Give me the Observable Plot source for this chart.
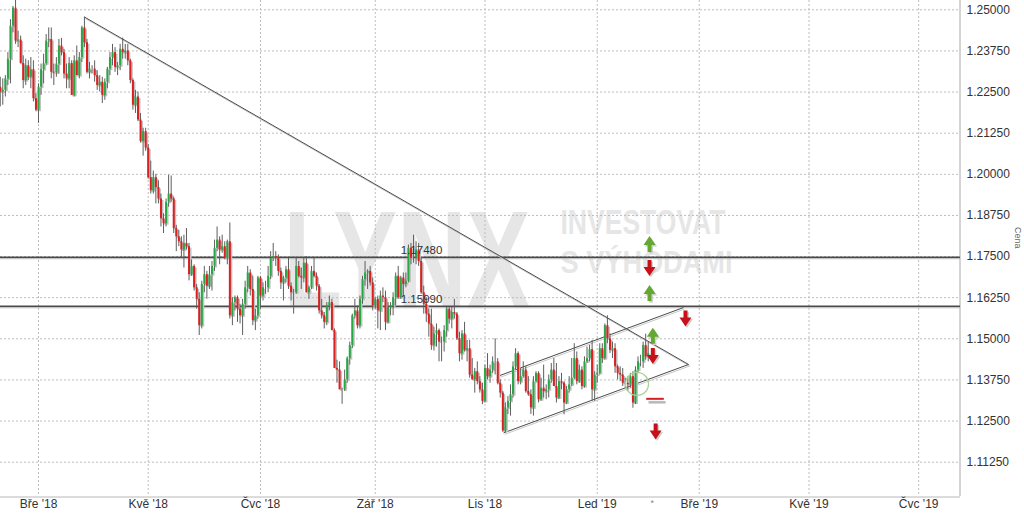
<!DOCTYPE html>
<html>
<head>
<meta charset="utf-8">
<script src="https://cdn.jsdelivr.net/npm/d3@7"></script>
<script src="https://cdn.jsdelivr.net/npm/@observablehq/plot@0.6"></script>
<style>
html,body{margin:0;padding:0;background:#fff;}
#chart{width:1024px;height:517px;overflow:hidden;}
</style>
</head>
<body>
<div id="chart"></div>
<script>
// ---- trading days (EUR/USD daily bars) ----
const dates = [
"2018-02-08","2018-02-09","2018-02-12","2018-02-13","2018-02-14","2018-02-15","2018-02-16","2018-02-19","2018-02-20","2018-02-21","2018-02-22","2018-02-23","2018-02-26","2018-02-27","2018-02-28",
"2018-03-01","2018-03-02","2018-03-05","2018-03-06","2018-03-07","2018-03-08","2018-03-09","2018-03-12","2018-03-13","2018-03-14","2018-03-15","2018-03-16","2018-03-19","2018-03-20","2018-03-21","2018-03-22","2018-03-23","2018-03-26","2018-03-27","2018-03-28","2018-03-29","2018-03-30",
"2018-04-02","2018-04-03","2018-04-04","2018-04-05","2018-04-06","2018-04-09","2018-04-10","2018-04-11","2018-04-12","2018-04-13","2018-04-16","2018-04-17","2018-04-18","2018-04-19","2018-04-20","2018-04-23","2018-04-24","2018-04-25","2018-04-26","2018-04-27","2018-04-30",
"2018-05-01","2018-05-02","2018-05-03","2018-05-04","2018-05-07","2018-05-08","2018-05-09","2018-05-10","2018-05-11","2018-05-14","2018-05-15","2018-05-16","2018-05-17","2018-05-18","2018-05-21","2018-05-22","2018-05-23","2018-05-24","2018-05-25","2018-05-28","2018-05-29","2018-05-30","2018-05-31",
"2018-06-01","2018-06-04","2018-06-05","2018-06-06","2018-06-07","2018-06-08","2018-06-11","2018-06-12","2018-06-13","2018-06-14","2018-06-15","2018-06-18","2018-06-19","2018-06-20","2018-06-21","2018-06-22","2018-06-25","2018-06-26","2018-06-27","2018-06-28","2018-06-29",
"2018-07-02","2018-07-03","2018-07-04","2018-07-05","2018-07-06","2018-07-09","2018-07-10","2018-07-11","2018-07-12","2018-07-13","2018-07-16","2018-07-17","2018-07-18","2018-07-19","2018-07-20","2018-07-23","2018-07-24","2018-07-25","2018-07-26","2018-07-27","2018-07-30","2018-07-31",
"2018-08-01","2018-08-02","2018-08-03","2018-08-06","2018-08-07","2018-08-08","2018-08-09","2018-08-10","2018-08-13","2018-08-14","2018-08-15","2018-08-16","2018-08-17","2018-08-20","2018-08-21","2018-08-22","2018-08-23","2018-08-24","2018-08-27","2018-08-28","2018-08-29","2018-08-30","2018-08-31",
"2018-09-03","2018-09-04","2018-09-05","2018-09-06","2018-09-07","2018-09-10","2018-09-11","2018-09-12","2018-09-13","2018-09-14","2018-09-17","2018-09-18","2018-09-19","2018-09-20","2018-09-21","2018-09-24","2018-09-25","2018-09-26","2018-09-27","2018-09-28",
"2018-10-01","2018-10-02","2018-10-03","2018-10-04","2018-10-05","2018-10-08","2018-10-09","2018-10-10","2018-10-11","2018-10-12","2018-10-15","2018-10-16","2018-10-17","2018-10-18","2018-10-19","2018-10-22","2018-10-23","2018-10-24","2018-10-25","2018-10-26","2018-10-29","2018-10-30","2018-10-31",
"2018-11-01","2018-11-02","2018-11-05","2018-11-06","2018-11-07","2018-11-08","2018-11-09","2018-11-12","2018-11-13","2018-11-14","2018-11-15","2018-11-16","2018-11-19","2018-11-20","2018-11-21","2018-11-22","2018-11-23","2018-11-26","2018-11-27","2018-11-28","2018-11-29","2018-11-30",
"2018-12-03","2018-12-04","2018-12-05","2018-12-06","2018-12-07","2018-12-10","2018-12-11","2018-12-12","2018-12-13","2018-12-14","2018-12-17","2018-12-18","2018-12-19","2018-12-20","2018-12-21","2018-12-24","2018-12-26","2018-12-27","2018-12-28","2018-12-31",
"2019-01-02","2019-01-03","2019-01-04","2019-01-07","2019-01-08","2019-01-09","2019-01-10","2019-01-11","2019-01-14","2019-01-15","2019-01-16","2019-01-17","2019-01-18","2019-01-21","2019-01-22","2019-01-23","2019-01-24","2019-01-25","2019-01-28","2019-01-29","2019-01-30","2019-01-31",
"2019-02-01"];

const open = [
1.2265,1.2250,1.2255,1.2290,1.2350,1.2450,1.2505,1.2405,1.2408,1.2337,1.2285,1.2330,1.2295,1.2318,1.2230,
1.2195,1.2265,1.2318,1.2336,1.2405,1.2410,1.2310,1.2308,1.2335,1.2390,1.2370,1.2305,1.2290,1.2337,1.2240,1.2345,1.2300,1.2355,1.2445,1.2400,1.2310,1.2320,
1.2320,1.2300,1.2270,1.2280,1.2240,1.2280,1.2320,1.2355,1.2370,1.2325,1.2330,1.2380,1.2370,1.2375,1.2345,1.2285,1.2210,1.2235,1.2165,1.2100,1.2130,
1.2080,1.1990,1.1950,1.1990,1.1960,1.1925,1.1865,1.1850,1.1915,1.1940,1.1925,1.1835,1.1810,1.1795,1.1770,1.1790,1.1780,1.1695,1.1720,1.1655,1.1620,1.1540,1.1665,
1.1695,1.1660,1.1695,1.1720,1.1775,1.1800,1.1770,1.1780,1.1745,1.1795,1.1570,1.1610,1.1625,1.1590,1.1570,1.1605,1.1655,1.1700,1.1650,1.1555,1.1570,
1.1685,1.1630,1.1655,1.1655,1.1690,1.1745,1.1750,1.1745,1.1705,1.1670,1.1685,1.1710,1.1660,1.1640,1.1640,1.1720,1.1690,1.1685,1.1730,1.1640,1.1655,1.1705,
1.1690,1.1660,1.1585,1.1570,1.1550,1.1600,1.1610,1.1525,1.1410,1.1405,1.1345,1.1345,1.1375,1.1440,1.1480,1.1570,1.1585,1.1540,1.1620,1.1680,1.1700,1.1705,1.1670,
1.1600,1.1620,1.1585,1.1630,1.1625,1.1550,1.1595,1.1600,1.1625,1.1690,1.1625,1.1685,1.1665,1.1675,1.1775,1.1745,1.1745,1.1770,1.1735,1.1640,
1.1605,1.1575,1.1545,1.1480,1.1515,1.1525,1.1490,1.1490,1.1525,1.1590,1.1560,1.1580,1.1575,1.1500,1.1455,1.1515,1.1465,1.1470,1.1390,1.1375,1.1400,1.1370,1.1345,
1.1310,1.1410,1.1385,1.1405,1.1430,1.1430,1.1365,1.1335,1.1220,1.1290,1.1310,1.1330,1.1415,1.1455,1.1370,1.1385,1.1405,1.1340,1.1330,1.1290,1.1370,1.1395,
1.1315,1.1350,1.1340,1.1345,1.1375,1.1405,1.1355,1.1320,1.1370,1.1365,1.1305,1.1345,1.1360,1.1380,1.1440,1.1370,1.1405,1.1355,1.1430,1.1440,
1.1467,1.1345,1.1390,1.1395,1.1470,1.1440,1.1540,1.1500,1.1465,1.1470,1.1415,1.1395,1.1390,1.1365,1.1365,1.1360,1.1385,1.1305,1.1405,1.1430,1.1430,1.1480,
1.1445];

const high = [
1.2295,1.2290,1.2300,1.2370,1.2470,1.2510,1.2555,1.2435,1.2420,1.2360,1.2350,1.2345,1.2355,1.2345,1.2245,
1.2275,1.2335,1.2365,1.2425,1.2445,1.2445,1.2335,1.2355,1.2410,1.2413,1.2380,1.2335,1.2355,1.2345,1.2360,1.2390,1.2370,1.2450,1.2478,1.2410,1.2340,1.2330,
1.2345,1.2315,1.2300,1.2295,1.2290,1.2325,1.2370,1.2395,1.2385,1.2340,1.2395,1.2414,1.2395,1.2395,1.2350,1.2290,1.2255,1.2250,1.2185,1.2140,1.2140,
1.2090,1.2040,1.2010,1.2000,1.1980,1.1940,1.1880,1.1925,1.1997,1.1995,1.1930,1.1845,1.1830,1.1810,1.1815,1.1835,1.1790,1.1740,1.1725,1.1665,1.1640,1.1675,1.1720,
1.1705,1.1720,1.1735,1.1800,1.1840,1.1810,1.1815,1.1795,1.1800,1.1852,1.1625,1.1630,1.1630,1.1605,1.1620,1.1675,1.1720,1.1710,1.1690,1.1590,1.1690,
1.1690,1.1670,1.1675,1.1720,1.1765,1.1790,1.1765,1.1755,1.1715,1.1690,1.1720,1.1745,1.1670,1.1650,1.1745,1.1735,1.1715,1.1745,1.1750,1.1660,1.1720,1.1745,
1.1700,1.1665,1.1620,1.1580,1.1610,1.1630,1.1620,1.1530,1.1435,1.1430,1.1350,1.1405,1.1445,1.1490,1.1575,1.1620,1.1600,1.1630,1.1690,1.1735,1.1710,1.1720,1.1685,
1.1625,1.1630,1.1645,1.1655,1.1645,1.1610,1.1610,1.1640,1.1700,1.1720,1.1690,1.1700,1.1700,1.1785,1.1790,1.1815,1.1795,1.1790,1.1745,1.1660,
1.1625,1.1590,1.1590,1.1535,1.1545,1.1530,1.1505,1.1540,1.1595,1.1595,1.1595,1.1620,1.1580,1.1520,1.1525,1.1550,1.1495,1.1495,1.1440,1.1410,1.1430,1.1385,1.1365,
1.1420,1.1455,1.1420,1.1445,1.1500,1.1440,1.1375,1.1340,1.1305,1.1325,1.1360,1.1430,1.1470,1.1460,1.1410,1.1430,1.1415,1.1385,1.1345,1.1385,1.1400,1.1400,
1.1380,1.1420,1.1360,1.1390,1.1425,1.1440,1.1425,1.1385,1.1395,1.1370,1.1355,1.1385,1.1440,1.1485,1.1460,1.1420,1.1415,1.1445,1.1475,1.1480,
1.1495,1.1400,1.1420,1.1485,1.1485,1.1545,1.1570,1.1515,1.1490,1.1485,1.1420,1.1415,1.1410,1.1380,1.1385,1.1395,1.1400,1.1415,1.1445,1.1450,1.1490,1.1514,
1.1490];

const low = [
1.2205,1.2210,1.2235,1.2270,1.2275,1.2430,1.2395,1.2385,1.2335,1.2260,1.2270,1.2285,1.2260,1.2220,1.2190,
1.2155,1.2240,1.2275,1.2330,1.2385,1.2290,1.2270,1.2295,1.2305,1.2360,1.2290,1.2260,1.2260,1.2240,1.2235,1.2300,1.2290,1.2340,1.2385,1.2305,1.2290,1.2305,
1.2280,1.2255,1.2250,1.2215,1.2225,1.2260,1.2300,1.2330,1.2310,1.2300,1.2315,1.2350,1.2350,1.2330,1.2275,1.2195,1.2185,1.2160,1.2095,1.2055,1.2070,
1.1985,1.1940,1.1940,1.1910,1.1910,1.1840,1.1820,1.1840,1.1900,1.1915,1.1820,1.1765,1.1780,1.1745,1.1715,1.1770,1.1676,1.1690,1.1645,1.1590,1.1510,1.1530,1.1640,
1.1620,1.1650,1.1645,1.1705,1.1765,1.1725,1.1760,1.1740,1.1725,1.1560,1.1540,1.1585,1.1550,1.1545,1.1510,1.1590,1.1640,1.1630,1.1540,1.1525,1.1560,
1.1590,1.1615,1.1635,1.1640,1.1680,1.1735,1.1720,1.1690,1.1650,1.1615,1.1670,1.1650,1.1615,1.1575,1.1635,1.1685,1.1650,1.1670,1.1640,1.1620,1.1650,1.1685,
1.1645,1.1575,1.1560,1.1530,1.1540,1.1585,1.1525,1.1410,1.1365,1.1345,1.1301,1.1340,1.1365,1.1420,1.1470,1.1560,1.1530,1.1530,1.1605,1.1660,1.1650,1.1660,1.1585,
1.1590,1.1530,1.1525,1.1610,1.1525,1.1545,1.1570,1.1570,1.1600,1.1620,1.1620,1.1630,1.1655,1.1670,1.1725,1.1730,1.1725,1.1720,1.1635,1.1575,
1.1550,1.1505,1.1465,1.1463,1.1475,1.1430,1.1430,1.1460,1.1505,1.1545,1.1530,1.1560,1.1495,1.1430,1.1435,1.1460,1.1430,1.1380,1.1375,1.1335,1.1360,1.1335,1.1300,
1.1305,1.1375,1.1365,1.1395,1.1390,1.1360,1.1320,1.1216,1.1215,1.1270,1.1265,1.1320,1.1405,1.1360,1.1360,1.1380,1.1335,1.1325,1.1270,1.1265,1.1365,1.1305,
1.1310,1.1320,1.1315,1.1320,1.1365,1.1355,1.1305,1.1315,1.1345,1.1269,1.1300,1.1335,1.1355,1.1375,1.1360,1.1365,1.1345,1.1350,1.1425,1.1430,
1.1310,1.1310,1.1365,1.1390,1.1425,1.1435,1.1485,1.1455,1.1440,1.1395,1.1375,1.1370,1.1355,1.1350,1.1340,1.1350,1.1289,1.1300,1.1395,1.1415,1.1410,1.1435,
1.1430];

const close = [
1.2250,1.2255,1.2290,1.2350,1.2450,1.2505,1.2405,1.2408,1.2337,1.2285,1.2330,1.2295,1.2318,1.2230,1.2195,
1.2265,1.2318,1.2336,1.2405,1.2410,1.2310,1.2308,1.2335,1.2390,1.2370,1.2305,1.2290,1.2337,1.2240,1.2345,1.2300,1.2355,1.2445,1.2400,1.2310,1.2320,1.2320,
1.2300,1.2270,1.2280,1.2240,1.2280,1.2320,1.2355,1.2370,1.2325,1.2330,1.2380,1.2370,1.2375,1.2345,1.2285,1.2210,1.2235,1.2165,1.2100,1.2130,1.2080,
1.1990,1.1950,1.1990,1.1960,1.1925,1.1865,1.1850,1.1915,1.1940,1.1925,1.1835,1.1810,1.1795,1.1770,1.1790,1.1780,1.1695,1.1720,1.1655,1.1620,1.1540,1.1665,1.1695,
1.1660,1.1695,1.1720,1.1775,1.1800,1.1770,1.1780,1.1745,1.1795,1.1570,1.1610,1.1625,1.1590,1.1570,1.1605,1.1655,1.1700,1.1650,1.1555,1.1570,1.1685,
1.1630,1.1655,1.1655,1.1690,1.1745,1.1750,1.1745,1.1705,1.1670,1.1685,1.1710,1.1660,1.1640,1.1640,1.1720,1.1690,1.1685,1.1730,1.1640,1.1655,1.1705,1.1690,
1.1660,1.1585,1.1570,1.1550,1.1600,1.1610,1.1525,1.1410,1.1405,1.1345,1.1345,1.1375,1.1440,1.1480,1.1570,1.1585,1.1540,1.1620,1.1680,1.1700,1.1705,1.1670,1.1600,
1.1620,1.1585,1.1630,1.1625,1.1550,1.1595,1.1600,1.1625,1.1690,1.1625,1.1685,1.1665,1.1675,1.1775,1.1745,1.1745,1.1770,1.1735,1.1640,1.1605,
1.1575,1.1545,1.1480,1.1515,1.1525,1.1490,1.1490,1.1525,1.1590,1.1560,1.1580,1.1575,1.1500,1.1455,1.1515,1.1465,1.1470,1.1390,1.1375,1.1400,1.1370,1.1345,1.1310,
1.1410,1.1385,1.1405,1.1430,1.1430,1.1365,1.1335,1.1220,1.1290,1.1310,1.1330,1.1415,1.1455,1.1370,1.1385,1.1405,1.1340,1.1330,1.1290,1.1370,1.1395,1.1315,
1.1350,1.1340,1.1345,1.1375,1.1405,1.1355,1.1320,1.1370,1.1365,1.1305,1.1345,1.1360,1.1380,1.1440,1.1370,1.1405,1.1355,1.1430,1.1440,1.1467,
1.1345,1.1390,1.1395,1.1470,1.1440,1.1540,1.1500,1.1465,1.1470,1.1415,1.1395,1.1390,1.1365,1.1365,1.1360,1.1385,1.1305,1.1405,1.1430,1.1430,1.1480,1.1445,
1.1455];

// ---- axes ----
const tickLabels = ["Bře '18","Kvě '18","Čvc '18","Zář '18","Lis '18","Led '19","Bře '19","Kvě '19","Čvc '19"];
const tickBars   = [15, 58, 102, 147, 190, 234, 274, 317, 360];   // bar number (trading day) of each label
const yTicks = [1.25, 1.2375, 1.225, 1.2125, 1.2, 1.1875, 1.175, 1.1625, 1.15, 1.1375, 1.125, 1.1125];
const xDomain = [0.1, 376.4];
const yDomain = [1.10207, 1.25283];

// ---- drawn analysis ----
const levels = [1.1748, 1.1599];
const levelLabelBar = 157;
const lineNames  = ["resistance", "channelTop", "channelBottom"];
const lineBar1   = [33, 195.7, 197.3];
const linePrice1 = [1.2478, 1.1388, 1.1214];
const lineBar2   = [269.8, 267.8, 269.8];
const linePrice2 = [1.1422, 1.1595, 1.1422];
const arrowBars   = [254.5, 254.5, 254.5, 268.6, 255.8, 255.8, 256.9];
const arrowPrices = [1.1788, 1.1715, 1.1639, 1.1562, 1.1509, 1.1448, 1.1218];
const arrowDirs   = ["up", "down", "up", "down", "up", "down", "down"];
const circleBar = 249.6, circlePrice = 1.1363;
const dashBars = [253.2, 260.1], dashPrice = 1.13176;

// ---- build ----
const candles = dates.map((d, i) => ({bar: i, date: d, open: open[i], high: high[i], low: low[i], close: close[i]}));
const trend = lineNames.map((n, i) => ({name: n, x1: lineBar1[i], y1: linePrice1[i], x2: lineBar2[i], y2: linePrice2[i]}));
const arrows = arrowDirs.map((d, i) => ({dir: d, bar: arrowBars[i], price: arrowPrices[i]}));
const ticks = tickBars.map((b, i) => ({bar: b, label: tickLabels[i]}));
const lastBar = candles.length - 1;

const GREEN = "#27a844", RED = "#dc1f1f";
const upArrow = {draw(c) { c.moveTo(0,-8); c.lineTo(6,1); c.lineTo(2,1); c.lineTo(2,8); c.lineTo(-2,8); c.lineTo(-2,1); c.lineTo(-6,1); c.closePath(); }};
const downArrow = {draw(c) { c.moveTo(0,8); c.lineTo(6,-1); c.lineTo(2,-1); c.lineTo(2,-8); c.lineTo(-2,-8); c.lineTo(-2,-1); c.lineTo(-6,-1); c.closePath(); }};
const ups = arrows.filter(a => a.dir === "up");
const downs = arrows.filter(a => a.dir === "down");
const wmFont = "'Liberation Sans', Arial, sans-serif";

const chart = Plot.plot({
  width: 1024, height: 517,
  marginTop: 0, marginBottom: 21, marginLeft: 0, marginRight: 64,
  style: {fontFamily: "'Liberation Sans', Arial, sans-serif", fontSize: "12px", background: "#fff", overflow: "visible"},
  x: {type: "linear", domain: xDomain, axis: null},
  y: {type: "linear", domain: yDomain, axis: null},
  marks: [
    // watermark (natural width matches the print; tall letters come from a vertical stretch below)
    Plot.text(["LYNX"], {frameAnchor: "top-left", dx: 283, dy: 307, textAnchor: "start", lineAnchor: "bottom", fontSize: 92, fontWeight: "bold", fontFamily: wmFont, fill: "#e6e6e6"}),
    Plot.text(["INVESTOVAT"], {frameAnchor: "top-left", dx: 560, dy: 233, textAnchor: "start", lineAnchor: "bottom", fontSize: 25.5, fontWeight: "bold", fontFamily: wmFont, fill: "#e6e6e6"}),
    Plot.text(["S VÝHODAMI"], {frameAnchor: "top-left", dx: 560, dy: 272, textAnchor: "start", lineAnchor: "bottom", fontSize: 27, fontWeight: "bold", fontFamily: wmFont, fill: "#e6e6e6"}),
    // grid
    Plot.ruleY(yTicks, {y: d => d, stroke: "#bdbdbd", strokeDasharray: "2,2", strokeWidth: 1}),
    Plot.ruleX(ticks, {x: "bar", stroke: "#bdbdbd", strokeDasharray: "2,2", strokeWidth: 1}),
    // frame (right + bottom)
    Plot.ruleX([xDomain[1]], {x: d => d, stroke: "#a8a8a8", dx: -0.5}),
    Plot.ruleY([yDomain[0]], {y: d => d, stroke: "#b8b8b8", dy: 0.5}),
    // horizontal levels
    Plot.ruleY(levels, {y: d => d, stroke: "#b4b4b4", strokeWidth: 1, dy: 1.5}),
    Plot.ruleY(levels, {y: d => d, stroke: "#4a4a4a", strokeWidth: 1.6}),
    // trend lines
    Plot.link(trend, {x1: "x1", y1: "y1", x2: "x2", y2: "y2", stroke: "#c8c8c8", strokeWidth: 1, dx: 1, dy: 1.5}),
    Plot.link(trend, {x1: "x1", y1: "y1", x2: "x2", y2: "y2", stroke: "#4a4a4a", strokeWidth: 1}),
    // candles
    Plot.ruleX(candles, {x: "bar", y1: "open", y2: "close", stroke: "#c2c2c2", strokeWidth: 2, dx: 1.5, dy: 1.5, clip: true}),
    Plot.ruleX(candles, {x: "bar", y1: "low", y2: "high", stroke: "#5e5e5e", strokeWidth: 1, clip: true}),
    Plot.ruleX(candles, {x: "bar", y1: "open", y2: "close", stroke: d => d.close >= d.open ? GREEN : RED, strokeWidth: 2, clip: true}),
    // level labels
    Plot.text(levels, {x: () => levelLabelBar, y: d => d, text: d => d.toFixed(5), textAnchor: "start", dy: -7, fontSize: 11.5, fill: "#333"}),
    // annotations
    Plot.dot([0], {x: () => circleBar, y: () => circlePrice, r: 11.5, stroke: "#a6d18e", strokeWidth: 1.3, fill: "none"}),
    Plot.link([0], {x1: () => dashBars[0] + 0.9, x2: () => dashBars[1] + 0.7, y1: () => dashPrice, y2: () => dashPrice, stroke: "#b8b8b8", strokeWidth: 2.5, dy: 3.5}),
    Plot.link([0], {x1: () => dashBars[0], x2: () => dashBars[1], y1: () => dashPrice, y2: () => dashPrice, stroke: "#d42020", strokeWidth: 2}),
    Plot.dot(ups, {x: "bar", y: "price", symbol: upArrow, r: 5, fill: "#cfcfcf", stroke: "none", dx: 1.5, dy: 1.5}),
    Plot.dot(downs, {x: "bar", y: "price", symbol: downArrow, r: 5, fill: "#cfcfcf", stroke: "none", dx: 1.5, dy: 1.5}),
    Plot.dot(ups, {x: "bar", y: "price", symbol: upArrow, r: 5, fill: "#64a832", stroke: "none"}),
    Plot.dot(downs, {x: "bar", y: "price", symbol: downArrow, r: 5, fill: "#c8101a", stroke: "none"}),
    // axes labels
    Plot.text(yTicks, {y: d => d, frameAnchor: "right", dx: 6, textAnchor: "start", text: d => d.toFixed(5), fill: "#333", fontSize: 12}),
    Plot.text(ticks, {x: "bar", frameAnchor: "bottom", dy: 11, text: "label", fill: "#333", fontSize: 12}),
    Plot.text(["Cena"], {frameAnchor: "right", dx: 57, rotate: 90, fontSize: 9, fill: "#666"}),
    Plot.text([lastBar], {x: d => d, frameAnchor: "bottom", dx: 4, dy: 9, text: () => "*", fontSize: 9, fill: "#888"})
  ]
});

// watermark: exact printed widths and a vertical stretch about the baseline
const wm = {"LYNX": [247, 1.52], "INVESTOVAT": [165, 1.36], "S VÝHODAMI": [172, 1.16]};
chart.querySelectorAll("text").forEach(t => {
  const s = wm[t.textContent];
  if (!s) return;
  t.setAttribute("textLength", s[0]);
  t.setAttribute("lengthAdjust", "spacingAndGlyphs");
  const x = +(t.getAttribute("x") || 0), y = +(t.getAttribute("y") || 0);
  const tr = t.getAttribute("transform") || "";
  t.setAttribute("x", 0); t.setAttribute("y", 0);
  t.setAttribute("transform", `${tr} translate(${x},${y}) scale(1,${s[1]})`);
});
document.getElementById("chart").appendChild(chart);
</script>
</body>
</html>
